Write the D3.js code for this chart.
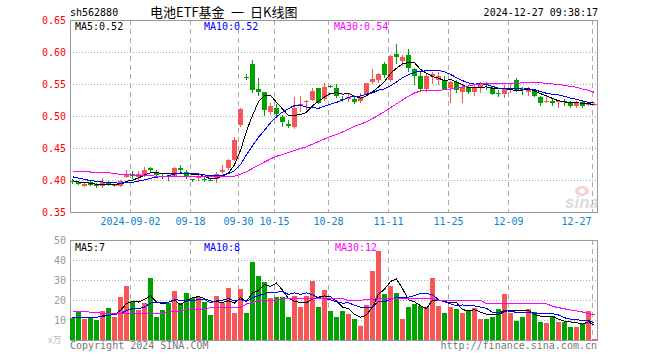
<!DOCTYPE html>
<html>
<head>
<meta charset="utf-8">
<script src="https://cdn.jsdelivr.net/npm/d3@7"></script>
<style>
  body { margin: 0; background: #fff; }
  svg { display: block; }
  .mono { font-family: "DejaVu Sans Mono", "Liberation Mono", monospace; font-size: 10px; }
  .grid { stroke: #aaa; stroke-width: 1px; shape-rendering: crispEdges; }
  .frame { fill: none; stroke: #999; stroke-width: 1px; shape-rendering: crispEdges; }
</style>
</head>
<body>
<script>
  // trading days shown on the chart
  const dates = [
    '2024-08-19','2024-08-20','2024-08-21','2024-08-22','2024-08-23','2024-08-26','2024-08-27','2024-08-28','2024-08-29','2024-08-30',
    '2024-09-02','2024-09-03','2024-09-04','2024-09-05','2024-09-06','2024-09-09','2024-09-10','2024-09-11','2024-09-12','2024-09-13',
    '2024-09-18','2024-09-19','2024-09-20','2024-09-23','2024-09-24','2024-09-25','2024-09-26','2024-09-27','2024-09-30',
    '2024-10-08','2024-10-09','2024-10-10','2024-10-11','2024-10-14','2024-10-15',
    '2024-10-16','2024-10-17','2024-10-18','2024-10-21','2024-10-22','2024-10-23','2024-10-24','2024-10-25','2024-10-28',
    '2024-10-29','2024-10-30','2024-10-31','2024-11-01','2024-11-04','2024-11-05','2024-11-06','2024-11-07','2024-11-08','2024-11-11',
    '2024-11-12','2024-11-13','2024-11-14','2024-11-15','2024-11-18','2024-11-19','2024-11-20','2024-11-21','2024-11-22','2024-11-25',
    '2024-11-26','2024-11-27','2024-11-28','2024-11-29','2024-12-02','2024-12-03','2024-12-04','2024-12-05','2024-12-06','2024-12-09',
    '2024-12-10','2024-12-11','2024-12-12','2024-12-13','2024-12-16','2024-12-17','2024-12-18','2024-12-19','2024-12-20','2024-12-23',
    '2024-12-24','2024-12-25','2024-12-26','2024-12-27'
  ];

  const open = [
    .399,.397,.391,.397,.394,.390,.397,.391,.390,.404,
    .409,.404,.408,.418,.413,.407,.406,.406,.418,.413,
    .401,.404,.401,.400,.402,.413,.418,.431,.486,
    .561,.581,.542,.537,.507,.512,
    .499,.487,.483,.516,.522,.525,.543,.527,.547,
    .544,.527,.527,.527,.524,.535,.553,.557,.581,.556,
    .597,.586,.595,.573,.562,.542,.563,.557,.557,.543,
    .553,.538,.546,.538,.544,.552,.543,.536,.535,.542,
    .556,.542,.538,.540,.530,.522,.524,.522,.523,.521,
    .516,.522,.518,.517
  ];
  const high = [
    .401,.398,.396,.399,.395,.403,.398,.393,.400,.416,
    .414,.414,.420,.421,.416,.410,.408,.420,.423,.416,
    .402,.409,.407,.402,.412,.424,.433,.467,.512,
    .565,.588,.560,.538,.520,.518,
    .502,.494,.529,.532,.525,.543,.544,.552,.549,
    .550,.531,.535,.531,.536,.552,.573,.567,.585,.596,
    .613,.596,.605,.575,.570,.565,.569,.568,.563,.555,
    .556,.550,.548,.548,.553,.553,.546,.540,.549,.551,
    .560,.545,.546,.542,.531,.533,.527,.524,.527,.523,
    .524,.524,.522,.521
  ];
  const low = [
    .394,.392,.389,.390,.388,.388,.390,.389,.389,.403,
    .401,.398,.405,.413,.406,.401,.399,.404,.411,.402,
    .397,.398,.397,.398,.395,.410,.416,.430,.483,
    .556,.536,.532,.500,.501,.500,
    .483,.481,.480,.507,.510,.523,.519,.524,.543,
    .528,.522,.522,.519,.521,.532,.550,.552,.560,.553,
    .581,.578,.568,.549,.538,.538,.550,.548,.540,.520,
    .536,.520,.535,.532,.536,.540,.533,.530,.528,.536,
    .537,.533,.532,.529,.516,.520,.515,.512,.516,.513,
    .513,.512,.516,.515
  ];
  const close = [
    .397,.393,.394,.392,.390,.397,.393,.392,.398,.410,
    .406,.410,.415,.416,.408,.405,.405,.419,.416,.406,
    .400,.405,.400,.399,.410,.416,.431,.463,.511,
    .560,.540,.538,.509,.516,.503,
    .490,.485,.513,.518,.524,.539,.521,.546,.546,
    .531,.526,.530,.522,.529,.551,.558,.566,.564,.594,
    .592,.592,.575,.563,.542,.562,.566,.563,.542,.553,
    .541,.546,.538,.544,.551,.549,.535,.535,.544,.543,
    .541,.541,.541,.531,.521,.523,.521,.523,.522,.516,
    .522,.516,.519,.518
  ];

  const ma5 = [
    .399,.397,.396,.395,.3932,.3932,.3932,.3928,.394,.398,
    .3998,.4032,.4078,.4114,.411,.4108,.4098,.4106,.4106,.4102,
    .4092,.4092,.4054,.402,.4028,.406,.4112,.4238,.4462,
    .4762,.501,.5224,.5316,.5326,.5212,
    .5112,.5006,.5014,.5018,.506,.5158,.523,.5296,.5352,
    .5366,.534,.5358,.531,.5276,.5316,.538,.5452,.5536,.5666,
    .5748,.5816,.5834,.5832,.5728,.5668,.5616,.5592,.555,.5572,
    .553,.549,.544,.5444,.544,.5456,.5434,.5428,.5428,.5412,
    .5396,.5408,.542,.5394,.535,.5314,.5274,.5238,.522,.521,
    .5208,.5198,.519,.5182
  ];
  const ma10 = [
    .405,.403,.401,.399,.398,.397,.396,.3955,.395,.3956,
    .3965,.3982,.4003,.4027,.4045,.4053,.4065,.4092,.411,.4106,
    .41,.4095,.408,.4063,.4065,.4076,.4102,.4146,.4241,
    .4395,.4535,.4668,.4777,.4894,.4987,
    .5061,.5115,.5165,.5172,.5136,.5135,.5118,.5155,.5185,
    .5213,.5249,.5294,.5303,.5314,.5341,.536,.5405,.5423,.5471,
    .5532,.5598,.5643,.5684,.5697,.5708,.5716,.5713,.5691,.565,
    .5599,.5553,.5516,.5497,.5506,.5493,.5462,.5434,.5436,.5426,
    .5426,.5421,.5424,.5411,.5381,.5355,.5341,.5329,.5307,.528,
    .5261,.5236,.5214,.5201
  ];
  const ma30 = [
    .414,.414,.414,.4125,.4125,.4115,.4115,.410,.409,.4085,
    .408,.407,.407,.4065,.406,.406,.406,.406,.4055,.4055,
    .405,.405,.405,.405,.405,.405,.405,.406,.409,
    .413,.418,.423,.428,.433,.437,
    .440,.443,.446,.449,.452,.456,.460,.464,.468,
    .471,.475,.479,.484,.487,.491,.496,.501,.507,.513,
    .519,.525,.531,.536,.539,.540,.540,.540,.541,.542,
    .544,.545,.547,.549,.550,.551,.551,.551,.551,.551,
    .551,.552,.552,.552,.552,.551,.550,.549,.548,.546,
    .545,.542,.540,.537
  ];

  // volume in 万
  const volume = [
    10.8,14.5,10.5,10.8,10,14.5,16.2,11.7,21.7,27,
    19.5,15,18.3,30.8,11.7,15,18.3,24.5,18.3,23.3,
    20.8,21.7,19.2,12.5,22,18.3,26.2,13.5,25.5,
    13.3,39.2,32,28.8,20.8,21.5,
    21.3,11.7,22,16.7,22,29.7,16.7,25,14.5,
    11.7,14.5,13,10.5,7.2,17.5,34.5,44.5,23,27,
    23.5,10.5,16.5,18,17.2,16.7,31,17,13.5,16.3,
    15.5,13.5,14.5,15.8,10.5,10.5,11.7,15.5,23,13.5,
    9.5,11.5,15.5,13.8,9,8.5,11.8,9,9,6.7,
    6.7,8.3,14.5,0.5
  ];
  const volMa5 = [
    11.2,11.2,11.3,11.4,11.32,12.06,12.4,12.64,14.82,18.22,
    19.22,18.98,20.3,22.12,19.06,18.16,18.82,20.06,17.56,19.88,
    21.04,21.72,20.66,19.5,19.24,18.74,19.64,18.5,21.1,
    19.36,23.54,24.7,27.76,26.82,28.46,
    24.88,20.82,19.46,18.64,18.74,20.42,21.42,22.02,21.58,
    19.52,16.48,15.74,12.84,11.38,12.54,16.54,22.84,25.34,29.3,
    30.5,25.7,20.1,19.1,17.14,15.78,19.88,19.98,19.08,18.9,
    18.66,15.16,14.66,15.12,13.96,12.96,12.6,12.8,14.24,14.84,
    14.64,14.6,14.6,12.76,11.86,11.66,11.72,10.42,9.46,9.0,
    8.64,7.94,9.04,7.34
  ];
  const volMa10 = [
    11.2,11.1,11.1,11.2,11.4,11.8,12.3,12.8,13.2,14.77,
    15.64,15.69,16.47,18.47,18.64,18.69,18.9,20.18,19.84,19.47,
    19.6,20.27,20.36,18.53,19.56,19.89,20.68,19.58,20.3,
    19.3,21.14,22.17,23.13,23.96,23.91,
    24.21,22.76,23.61,22.73,23.6,22.65,21.12,20.74,20.11,
    19.13,18.45,18.58,17.43,16.48,16.03,16.51,19.29,19.09,20.34,
    21.52,21.12,21.47,22.22,23.22,23.14,22.79,20.04,19.09,18.02,
    17.22,17.52,17.32,17.1,16.43,15.81,13.88,13.73,14.68,14.4,
    13.8,13.6,13.7,13.5,13.35,13.15,13.16,12.51,11.11,10.43,
    10.15,9.83,9.73,8.4
  ];
  const volMa30 = [
    14.5,14.5,14.5,13.8,13.8,13.3,13.3,13.3,13.3,13.3,
    13.3,13.3,13.3,13.3,13.3,13.3,14.3,14.3,14.3,15.5,
    15.5,15.5,15.5,16.2,16.2,16.2,16.2,16.2,16.2,
    18,18.5,19.8,19.8,20,20,
    20.8,20.8,20.8,20.8,20.8,20.8,20.8,20.8,20.8,
    20.8,20.8,19.8,19.8,19.8,20.2,20.4,20.6,20.8,20.8,
    20.8,20.8,20.8,20.8,20.8,20.8,20.8,19.8,19.8,19.8,
    19.8,19.8,19.8,19.8,19.8,18.2,18.2,18.2,18.2,18.2,
    18.2,18.2,18.2,18.2,18.2,18.2,16.8,16.2,15.6,15,
    14.5,14,13.2,12.6
  ];

  const priceTicks = [0.35, 0.40, 0.45, 0.50, 0.55, 0.60, 0.65];
  const volTicks = [10, 20, 30, 40, 50];
  const tickDates = ['2024-09-02','2024-09-18','2024-09-30','2024-10-15','2024-10-28','2024-11-11','2024-11-25','2024-12-09','2024-12-27'];
  const tickLabels = ['2024-09-02','09-18','09-30','10-15','10-28','11-11','11-25','12-09','12-27'];

  const titleParts = ['电池ETF基金', '一', '日K线图'];
  const code = 'sh562880';
  const stamp = '2024-12-27 09:38:17';
  const priceMaText = ['MA5:0.52', 'MA10:0.52', 'MA30:0.54'];
  const volMaText = ['MA5:7', 'MA10:8', 'MA30:12'];

  const UP = '#f65656', DOWN = '#00a200';
  const MA_COLORS = ['#000', '#00f', '#f0f'];

  const W = 660, H = 360;
  const left = 70, right = 597;
  const svg = d3.select('body').append('svg').attr('width', W).attr('height', H);

  const x = d3.scaleBand().domain(dates).range([69.5, 597.5]).padding(0);
  const cx = d => x(d) + 3;
  const y = d3.scaleLinear().domain([0.35, 0.65]).range([212, 20]);
  const yv = d3.scaleLinear().domain([0, 50]).range([340, 240]);
  const crisp = v => Math.round(v) + 0.5;

  // header
  svg.append('text').attr('class', 'mono').attr('x', left).attr('y', 16).attr('fill', '#000').text(code);
  const title = svg.append('text').attr('y', 17)
    .style('font-family', '"Noto Sans CJK SC", sans-serif').style('font-size', '13px')
    .attr('fill', '#000');
  [150, 231, 250].forEach((px, k) => title.append('tspan').attr('x', px).text(titleParts[k]));
  svg.append('text').attr('class', 'mono').attr('x', right + 1).attr('y', 16)
    .attr('text-anchor', 'end').attr('fill', '#000').text(stamp);

  function panel(yScale, top, bottom, ticks, tickFmt, tickColor, gridTicks) {
    const g = svg.append('g');
    g.selectAll('line.h').data(gridTicks).enter().append('line')
      .attr('class', 'grid')
      .attr('x1', left).attr('x2', right)
      .attr('y1', d => crisp(yScale(d))).attr('y2', d => crisp(yScale(d)))
      .attr('stroke-dasharray', '1,2');
    g.selectAll('line.v').data(tickDates).enter().append('line')
      .attr('class', 'grid')
      .attr('x1', d => x(d) + 1).attr('x2', d => x(d) + 1)
      .attr('y1', top).attr('y2', bottom)
      .attr('stroke-dasharray', '5,4');
    g.append('rect').attr('class', 'frame')
      .attr('x', left + 0.5).attr('y', top + 0.5)
      .attr('width', right - left).attr('height', bottom - top);
    g.selectAll('text.tick').data(ticks).enter().append('text')
      .attr('class', 'mono')
      .attr('x', 66).attr('y', d => yScale(d) + 4)
      .attr('text-anchor', 'end').attr('fill', tickColor)
      .text(tickFmt);
    return g;
  }

  // price panel
  panel(y, 20, 212, priceTicks, d => d.toFixed(2), '#f00', priceTicks.slice(1, -1));

  // sina watermark
  const mark = svg.append('g').attr('opacity', 0.5);
  mark.append('ellipse').attr('cx', 582).attr('cy', 191).attr('rx', 7).attr('ry', 5).attr('fill', '#f0a0a0');
  mark.append('ellipse').attr('cx', 582).attr('cy', 191).attr('rx', 3).attr('ry', 2.5).attr('fill', '#fff');
  mark.append('text').attr('x', 565).attr('y', 208)
    .style('font-family', '"Liberation Sans", sans-serif').style('font-size', '17px')
    .style('font-weight', 'bold').style('font-style', 'italic')
    .attr('fill', '#b8b8b8').text('sina');

  const candles = svg.append('g').attr('shape-rendering', 'crispEdges');
  const idx = d3.range(dates.length);
  const col = i => close[i] >= open[i] ? UP : DOWN;
  candles.selectAll('line.wick').data(idx).enter().append('line')
    .attr('x1', i => cx(dates[i])).attr('x2', i => cx(dates[i]))
    .attr('y1', i => y(high[i])).attr('y2', i => y(low[i]))
    .attr('stroke', col).attr('stroke-width', 1);
  candles.selectAll('rect.body').data(idx).enter().append('rect')
    .attr('x', i => x(dates[i]) + 0.5).attr('width', 5)
    .attr('y', i => y(Math.max(open[i], close[i])))
    .attr('height', i => Math.max(1, Math.abs(y(open[i]) - y(close[i]))))
    .attr('fill', col);

  const priceLine = d3.line().x((d, i) => cx(dates[i])).y(d => y(d));
  [ma5, ma10, ma30].forEach((s, k) => {
    svg.append('path').datum(s).attr('d', priceLine)
      .attr('fill', 'none').attr('stroke', MA_COLORS[k]).attr('stroke-width', 1)
      .attr('shape-rendering', 'crispEdges');
  });

  [75, 204, 334].forEach((px, k) => {
    svg.append('text').attr('class', 'mono').attr('x', px).attr('y', 30)
      .attr('fill', MA_COLORS[k]).text(priceMaText[k]);
  });

  // date labels
  svg.selectAll('text.date').data(tickDates).enter().append('text')
    .attr('class', 'mono')
    .attr('x', (d, i) => i === tickDates.length - 1 ? x(d) : x(d) + 1)
    .attr('y', 225)
    .attr('text-anchor', (d, i) => i === tickDates.length - 1 ? 'end' : 'middle')
    .attr('fill', '#0a82cf')
    .text((d, i) => tickLabels[i]);

  // volume panel
  panel(yv, 240, 340, volTicks, d => d, '#999', volTicks.slice(0, -1));
  svg.append('text').attr('x', 48).attr('y', 343)
    .style('font-family', '"Noto Sans CJK SC", sans-serif').style('font-size', '9px')
    .attr('fill', '#bbb').text('x万');

  svg.append('g').attr('shape-rendering', 'crispEdges')
    .selectAll('rect').data(idx).enter().append('rect')
    .attr('x', i => x(dates[i]) + 0.5).attr('width', 5)
    .attr('y', i => yv(volume[i]))
    .attr('height', i => yv(0) - yv(volume[i]))
    .attr('fill', col);

  const volLine = d3.line().x((d, i) => cx(dates[i])).y(d => yv(d));
  [volMa5, volMa10, volMa30].forEach((s, k) => {
    svg.append('path').datum(s).attr('d', volLine)
      .attr('fill', 'none').attr('stroke', MA_COLORS[k]).attr('stroke-width', 1)
      .attr('shape-rendering', 'crispEdges');
  });

  [75, 204, 335].forEach((px, k) => {
    svg.append('text').attr('class', 'mono').attr('x', px).attr('y', 251)
      .attr('fill', MA_COLORS[k]).text(volMaText[k]);
  });

  svg.append('text').attr('class', 'mono').attr('x', left).attr('y', 349)
    .attr('fill', '#777').text('Copyright 2024 SINA.COM');
  svg.append('text').attr('class', 'mono').attr('x', right).attr('y', 349)
    .attr('text-anchor', 'end').attr('fill', '#777').text('http://finance.sina.com.cn');
</script>
</body>
</html>
